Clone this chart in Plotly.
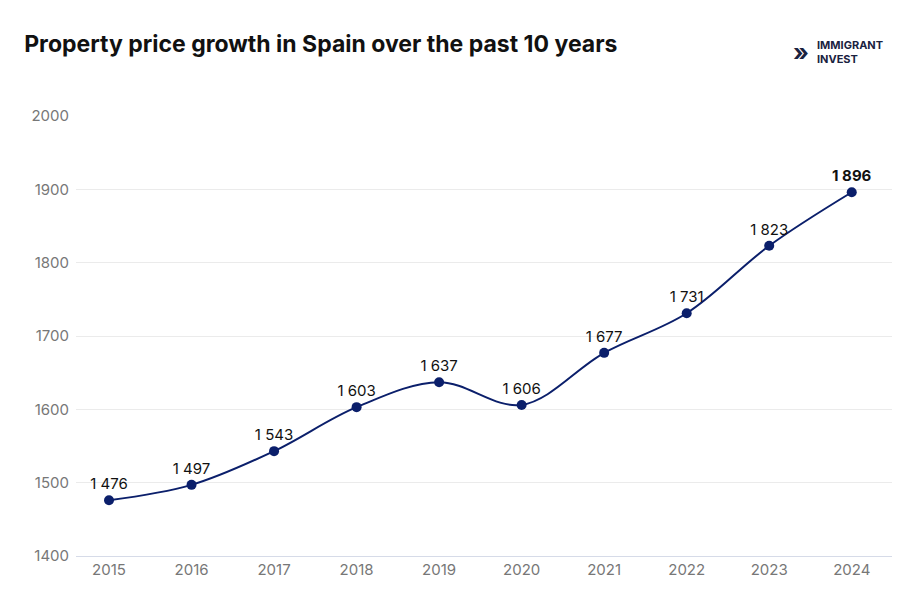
import plotly.graph_objects as go

years = ["2015","2016","2017","2018","2019","2020","2021","2022","2023","2024"]
prices = [1476,1497,1543,1603,1637,1606,1677,1731,1823,1896]
labels = ["1 476","1 497","1 543","1 603","1 637","1 606","1 677","1 731","1 823","<b>1 896</b>"]

navy = "#0b1f6b"
fig = go.Figure(go.Scatter(
    x=list(range(len(years))), y=prices, mode="lines+markers+text",
    line=dict(shape="spline", color=navy, width=2),
    marker=dict(size=10, color=navy),
    text=labels, textposition="top center",
    textfont=dict(family="Inter", size=15, color="#111"),
    cliponaxis=False, hoverinfo="skip"))

fig.update_layout(
    width=900, height=600, paper_bgcolor="white", plot_bgcolor="white",
    margin=dict(l=68, r=15, t=108, b=52), showlegend=False,
    font=dict(family="Inter", color="#777"),
    title=dict(text="<b>Property price growth in Spain over the past 10 years</b>",
               x=0.018, xanchor="left", y=0.94, yanchor="middle",
               font=dict(size=23, color="#111", family="Inter")),
    xaxis=dict(range=[-0.4, 9.5], tickmode="array", tickvals=list(range(len(years))),
               ticktext=years, showgrid=False, zeroline=False,
               showline=True, linecolor="#d6dbe8", linewidth=1,
               tickfont=dict(size=15, color="#777")),
    yaxis=dict(range=[1400, 2000], dtick=100, gridcolor="#ebebeb", zeroline=False,
               showline=False, tickfont=dict(size=15, color="#777"), ticklabelstandoff=6),
)
fig.add_annotation(xref="paper", yref="paper", x=0.99, y=1.145, xanchor="right", yanchor="middle",
                   text="<b>IMMIGRANT<br>INVEST</b>", showarrow=False, align="left",
                   font=dict(size=11, color="#1a2240", family="Inter"))
fig.add_annotation(xref="paper", yref="paper", x=0.9, y=1.145, xanchor="right", yanchor="middle",
                   text="<b>»</b>", showarrow=False,
                   font=dict(size=24, color="#1a2240", family="Inter"))
fig.write_html("out.html")
